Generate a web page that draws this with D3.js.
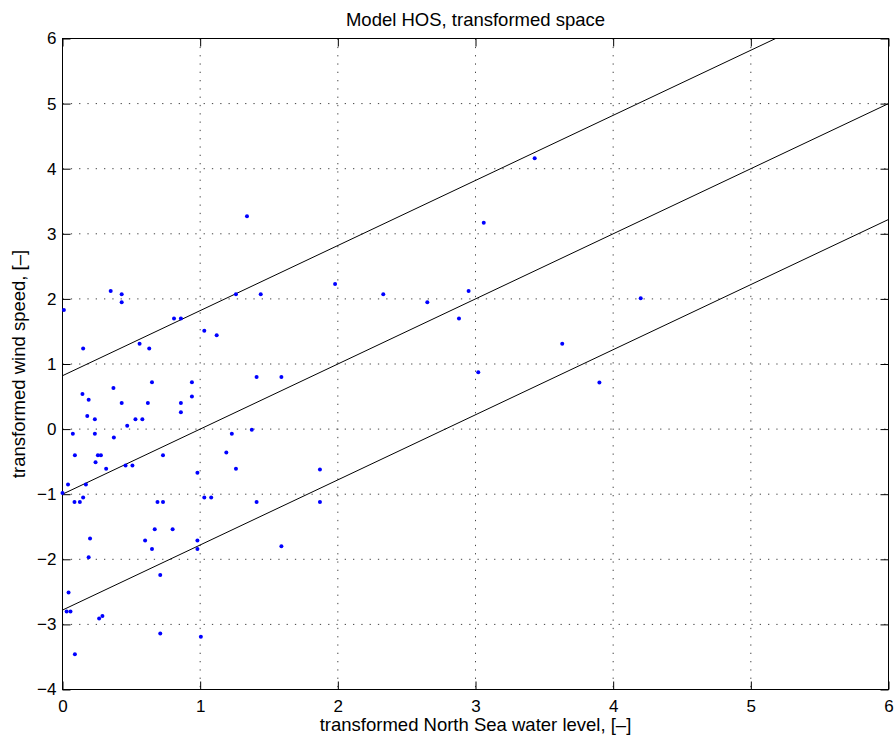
<!DOCTYPE html>
<html>
<head>
<meta charset="utf-8">
<script src="https://cdn.jsdelivr.net/npm/d3@7"></script>
<style>
  body { margin: 0; background: #fff; }
  svg { font-family: "Liberation Sans", Arial, Helvetica, sans-serif; }
  .grid line { stroke: #444; stroke-width: 1; stroke-dasharray: 1.3,7; }
  .tick text { font-size: 17px; fill: #000; }
</style>
</head>
<body>
<svg width="896" height="742"></svg>
<script>
// sample points
var waterLevel = [
    0.01, 0.35, 0.43, 0.43, 0.81, 0.86, 1.26, 1.03, 1.12, 0.15,
    0.56, 0.63, 0.65, 0.94, 0.37, 0.145, 0.19, 0.43, 0.62, 0.86,
    0.94, 0.86, 0.18, 0.235, 0.53, 0.58, 0.47, 1.375, 0.075, 0.235,
    1.23, 0.373, 1.19, 0.09, 0.257, 0.279, 0.73, 0.24, 0.317, 0.458,
    0.508, 1.26, 0.98, 0.04, 0.17, 0.0, 0.087, 0.126, 0.15, 0.69,
    0.73, 1.03, 1.08, 0.67, 0.80, 0.20, 0.60, 0.98, 0.65, 0.98,
    0.19, 0.71, 0.044, 0.03, 0.058, 0.266, 0.29, 0.71, 1.005, 0.09,
    1.34, 1.98, 1.44, 1.41, 1.59, 1.87, 1.41, 1.87, 1.59, 3.43,
    3.06, 2.33, 2.65, 2.95, 2.88, 4.20, 3.63, 3.02, 3.90
];
var windSpeed = [
    1.83, 2.12, 2.07, 1.95, 1.70, 1.70, 2.07, 1.51, 1.44, 1.24,
    1.31, 1.24, 0.72, 0.72, 0.63, 0.54, 0.45, 0.40, 0.40, 0.40,
    0.50, 0.26, 0.20, 0.15, 0.15, 0.15, 0.05, -0.01, -0.07, -0.07,
    -0.07, -0.13, -0.36, -0.40, -0.40, -0.40, -0.40, -0.51, -0.61, -0.56,
    -0.56, -0.61, -0.67, -0.85, -0.85, -0.98, -1.12, -1.12, -1.05, -1.12,
    -1.12, -1.05, -1.05, -1.54, -1.54, -1.68, -1.71, -1.71, -1.84, -1.84,
    -1.97, -2.24, -2.51, -2.80, -2.80, -2.91, -2.87, -3.14, -3.19, -3.46,
    3.27, 2.23, 2.07, 0.80, 0.80, -0.62, -1.12, -1.12, -1.80, 4.16,
    3.17, 2.07, 1.95, 2.12, 1.70, 2.01, 1.31, 0.875, 0.715
];

// regression line and the band around it (slope 1)
var lineSlope = 1;
var lineIntercepts = [0.82, -1.0, -2.78];

var xTicks = [0, 1, 2, 3, 4, 5, 6];
var yTicks = [-4, -3, -2, -1, 0, 1, 2, 3, 4, 5, 6];

var svg = d3.select("svg"),
    width = +svg.attr("width"),
    height = +svg.attr("height");

var margin = { top: 38.5, right: 7.5, bottom: 52.5, left: 62.5 },
    w = width - margin.left - margin.right,
    h = height - margin.top - margin.bottom;

var x = d3.scaleLinear().domain([0, 6]).range([0, w]);
var y = d3.scaleLinear().domain([-4, 6]).range([h, 0]);

var g = svg.append("g")
    .attr("transform", "translate(" + margin.left + "," + margin.top + ")");

g.append("clipPath")
    .attr("id", "plot-clip")
  .append("rect")
    .attr("width", w)
    .attr("height", h);

// dotted grid
var grid = g.append("g").attr("class", "grid");
grid.selectAll("line.v")
    .data(xTicks.slice(1, -1))
  .enter().append("line")
    .attr("class", "v")
    .attr("x1", function(d) { return x(d); })
    .attr("x2", function(d) { return x(d); })
    .attr("y1", 0)
    .attr("y2", h);
grid.selectAll("line.h")
    .data(yTicks.slice(1, -1))
  .enter().append("line")
    .attr("class", "h")
    .attr("x1", 0)
    .attr("x2", w)
    .attr("y1", function(d) { return y(d); })
    .attr("y2", function(d) { return y(d); });

// axes, matlab style: ticks inside on all four sides
var minus = function(d) { return d < 0 ? "\u2212" + Math.abs(d) : String(d); };

g.append("g")
    .attr("transform", "translate(0," + h + ")")
    .call(d3.axisBottom(x).tickValues(xTicks).tickSizeInner(-8).tickSizeOuter(0).tickPadding(10).tickFormat(minus));
g.append("g")
    .call(d3.axisTop(x).tickValues(xTicks).tickSizeInner(-8).tickSizeOuter(0).tickFormat(""));
g.append("g")
    .call(d3.axisLeft(y).tickValues(yTicks).tickSizeInner(-8).tickSizeOuter(0).tickPadding(6).tickFormat(minus));
g.append("g")
    .attr("transform", "translate(" + w + ",0)")
    .call(d3.axisRight(y).tickValues(yTicks).tickSizeInner(-8).tickSizeOuter(0).tickFormat(""));

g.selectAll(".domain").remove();
g.selectAll(".tick line").attr("stroke", "#000");

g.append("rect")
    .attr("width", w)
    .attr("height", h)
    .attr("fill", "none")
    .attr("stroke", "#000")
    .attr("stroke-width", 1);

// the three parallel lines
var line = d3.line()
    .x(function(d) { return x(d[0]); })
    .y(function(d) { return y(d[1]); });

g.append("g")
    .attr("clip-path", "url(#plot-clip)")
  .selectAll("path")
    .data(lineIntercepts)
  .enter().append("path")
    .attr("d", function(b) { return line([[0, b], [6, b + 6 * lineSlope]]); })
    .attr("fill", "none")
    .attr("stroke", "#000")
    .attr("stroke-width", 1);

// points
g.append("g")
  .selectAll("circle")
    .data(waterLevel)
  .enter().append("circle")
    .attr("cx", function(d) { return x(d); })
    .attr("cy", function(d, i) { return y(windSpeed[i]); })
    .attr("r", 2)
    .attr("fill", "#0000ff");

// labels
svg.append("text")
    .attr("x", margin.left + w / 2)
    .attr("y", 26)
    .attr("text-anchor", "middle")
    .style("font-size", "18.5px")
    .text("Model HOS, transformed space");

svg.append("text")
    .attr("x", margin.left + w / 2)
    .attr("y", 731)
    .attr("text-anchor", "middle")
    .style("font-size", "18.5px")
    .text("transformed North Sea water level, [\u2013]");

svg.append("text")
    .attr("transform", "translate(25," + (margin.top + h / 2) + ") rotate(-90)")
    .attr("text-anchor", "middle")
    .style("font-size", "18.5px")
    .text("transformed wind speed, [\u2013]");
</script>
</body>
</html>
